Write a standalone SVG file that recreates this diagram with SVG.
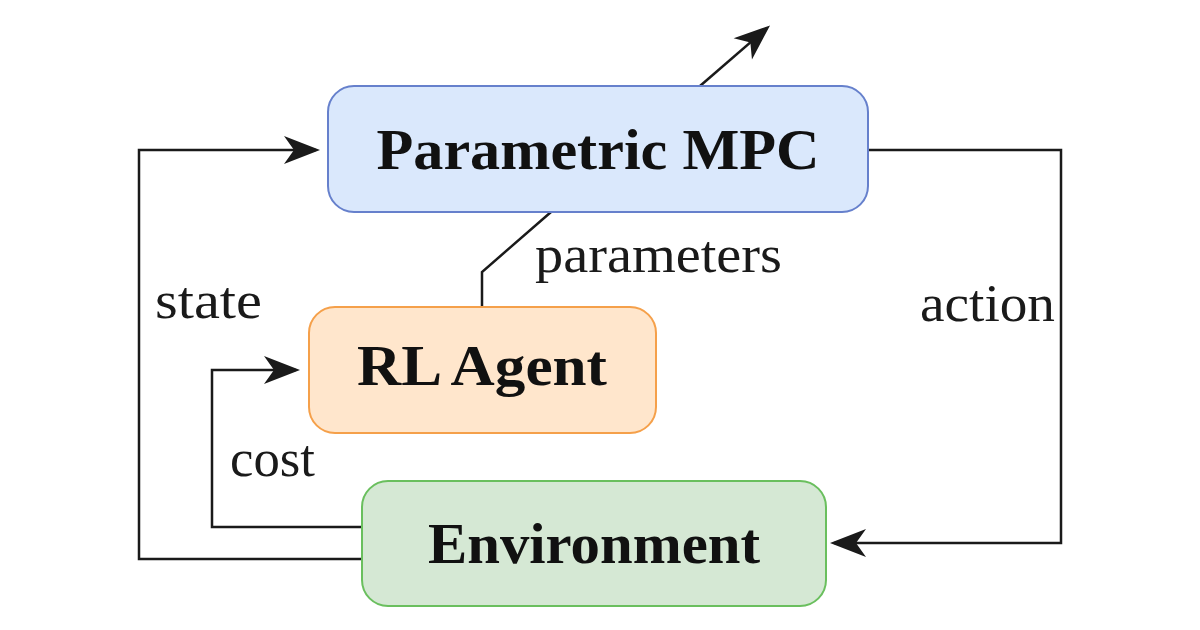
<svg xmlns="http://www.w3.org/2000/svg" width="1200" height="630" viewBox="0 0 1200 630">
<defs>
<marker id="arr" markerUnits="userSpaceOnUse" viewBox="-36 -16 42 32" markerWidth="42" markerHeight="32" refX="0" refY="0" orient="auto">
<path d="M4,0 L-32,-14 L-22,0 L-32,14 Z" fill="#1a1a1a"/>
</marker>
<style>
.box{stroke-width:2}
.title{font-family:"Liberation Serif","DejaVu Serif",serif;font-weight:bold;font-size:56px;fill:#111;text-anchor:middle}
.lbl{font-family:"Liberation Serif","DejaVu Serif",serif;font-size:52px;fill:#1a1a1a}
.conn{fill:none;stroke:#1a1a1a;stroke-width:2.5}
</style>
</defs>
<rect width="1200" height="630" fill="#ffffff"/>
<g id="connectors">
<path class="conn" d="M362,559 H139 V150 H316" marker-end="url(#arr)"/>
<path class="conn" d="M362,527 H212 V370 H296" marker-end="url(#arr)"/>
<path class="conn" d="M868,150 H1061 V543 H834" marker-end="url(#arr)"/>
<path class="conn" d="M700,86 L767,28" marker-end="url(#arr)"/>
<path class="conn" d="M482,307 V272 L551,212"/>
</g>
<g id="labels">
<text class="lbl" x="155" y="318" textLength="107" lengthAdjust="spacingAndGlyphs">state</text>
<text class="lbl" x="230" y="476" textLength="85" lengthAdjust="spacingAndGlyphs">cost</text>
<text class="lbl" x="920" y="321" textLength="135" lengthAdjust="spacingAndGlyphs">action</text>
<text class="lbl" x="535" y="272" textLength="247" lengthAdjust="spacingAndGlyphs">parameters</text>
</g>
<g id="mpc">
<rect class="box" x="328" y="86" width="540" height="126" rx="26" fill="#dae8fc" stroke="#6680cc"/>
<text class="title" x="598" y="169" textLength="443" lengthAdjust="spacingAndGlyphs">Parametric MPC</text>
</g>
<g id="rl-agent">
<rect class="box" x="309" y="307" width="347" height="126" rx="26" fill="#ffe6cc" stroke="#f5a04a"/>
<text class="title" x="482" y="385" textLength="250" lengthAdjust="spacingAndGlyphs">RL Agent</text>
</g>
<g id="environment">
<rect class="box" x="362" y="481" width="464" height="125" rx="26" fill="#d5e8d4" stroke="#6abf5e"/>
<text class="title" x="594" y="563" textLength="332" lengthAdjust="spacingAndGlyphs">Environment</text>
</g>
</svg>
